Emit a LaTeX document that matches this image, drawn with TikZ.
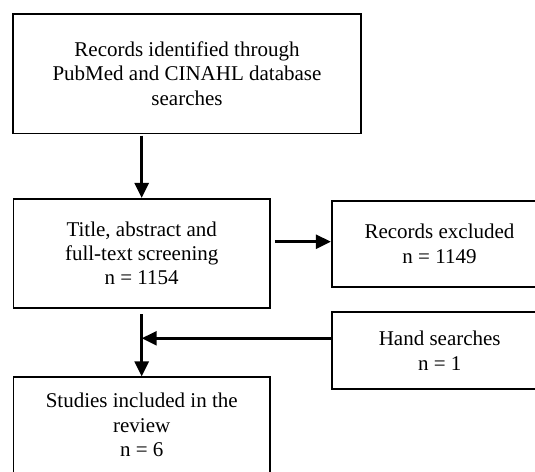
\documentclass[tikz,border=0pt]{standalone}
\usepackage{fontspec}
\setmainfont{Liberation Serif}
\usetikzlibrary{arrows.meta}
\begin{document}
\begin{tikzpicture}[x=1pt,y=-1pt,
  box/.style={draw=black, line width=1.7pt, rectangle, inner sep=0pt, anchor=center,
    align=center, font=\fontsize{21}{24.3}\selectfont},
  conn/.style={line width=2.6pt, -{Triangle[length=15pt,width=14pt]}}]
\useasboundingbox (0,0) rectangle (535,471);
\clip (0,0) rectangle (535,471);
\fill[white] (0,0) rectangle (535,471);
\node[box, minimum width=347.4pt, minimum height=119.3pt] (rec) at (187,73.7)
  {Records identified through\\PubMed and CINAHL database\\searches};
\node[box, minimum width=256.7pt, minimum height=109.5pt] (scr) at (141.7,253.5)
  {Title, abstract and\\full-text screening\\n = 1154};
\node[box, minimum width=215.6pt, minimum height=86pt] (exc) at (439.5,243.7)
  {Records excluded\\n = 1149};
\node[box, minimum width=215pt, minimum height=77pt] (hand) at (439.7,350.8)
  {Hand searches\\n = 1};
\node[box, minimum width=256.7pt, minimum height=95.5pt] (inc) at (141.7,425)
  {Studies included in the\\review\\n = 6};
\coordinate (j) at (141.7,338.3);
\draw[conn] ([yshift=-1.5pt]scr.north |- rec.south) -- (scr.north);
\draw[conn] ([xshift=4pt,yshift=2pt]scr.east |- exc.west) -- ([yshift=2pt]exc.west);
\draw[conn] (hand.west |- j) -- (j);
\draw[conn] ([yshift=-5pt]scr.south) -- (inc.north);
\end{tikzpicture}
\end{document}
